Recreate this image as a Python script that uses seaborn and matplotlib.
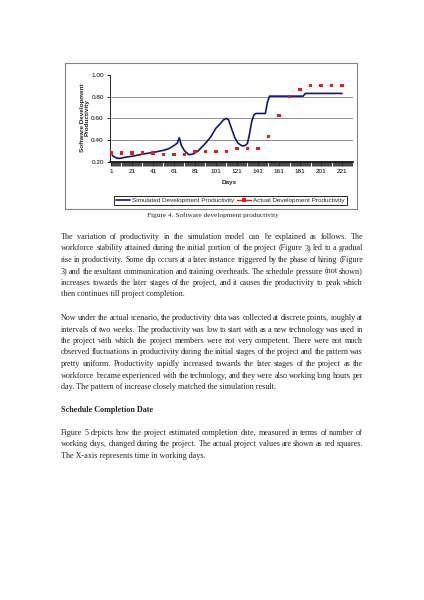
import matplotlib
matplotlib.use("Agg")
import matplotlib.pyplot as plt
import seaborn as sns
from matplotlib.patches import Rectangle
from matplotlib.lines import Line2D

# simulated productivity curve
sim_days = [1, 3, 6, 9, 14, 21, 31, 41, 51, 56, 61, 64, 66, 68, 71, 75, 79, 84, 91, 96,
            101, 105, 108, 111, 113, 116, 119, 122, 126, 129, 131, 133, 135, 137, 139,
            148, 150, 152, 184, 186, 221]
sim_prod = [0.28, 0.25, 0.235, 0.23, 0.24, 0.25, 0.27, 0.285, 0.305, 0.32, 0.35, 0.37,
            0.42, 0.35, 0.30, 0.265, 0.27, 0.30, 0.37, 0.43, 0.51, 0.55, 0.585, 0.60,
            0.585, 0.50, 0.42, 0.37, 0.345, 0.35, 0.37, 0.46, 0.57, 0.63, 0.645,
            0.645, 0.75, 0.805, 0.805, 0.83, 0.83]

# actual productivity (red squares)
act_days = [1, 11, 21, 31, 41, 51, 61, 71, 81, 91, 101, 111, 121, 131, 141, 151, 161,
            171, 181, 191, 201, 211, 221]
act_prod = [0.28, 0.28, 0.28, 0.28, 0.28, 0.27, 0.27, 0.27, 0.29, 0.29, 0.29, 0.29,
            0.32, 0.32, 0.32, 0.43, 0.63, 0.80, 0.87, 0.90, 0.90, 0.90, 0.90]

x_ticks = [1, 21, 41, 61, 81, 101, 121, 141, 161, 181, 201, 221]
y_ticks = [0.20, 0.40, 0.60, 0.80, 1.00]
legend_labels = ["Simulated Development Productivity", "Actual Development Productivity"]

caption = "Figure 4. Software development productivity"
para1 = [
    "The variation of productivity in the simulation model can be explained as follows. The",
    "workforce stability attained during the initial portion of the project (Figure 3) led to a gradual",
    "rise in productivity. Some dip occurs at a later instance triggered by the phase of hiring (Figure",
    "3) and the resultant communication and training overheads. The schedule pressure (not shown)",
    "increases towards the later stages of the project, and it causes the productivity to peak which",
    "then continues till project completion.",
]
para2 = [
    "Now under the actual scenario, the productivity data was collected at discrete points, roughly at",
    "intervals of two weeks.  The productivity was low to start with as a new technology was used in",
    "the project with which the project members were not very competent. There were not much",
    "observed fluctuations in productivity during the initial stages of the project and the pattern was",
    "pretty uniform. Productivity rapidly increased towards the later stages of the project as the",
    "workforce became experienced with the technology, and they were also working long hours per",
    "day. The pattern of increase closely matched the simulation result.",
]
heading = "Schedule Completion Date"
para3 = [
    "Figure 5 depicts how the project estimated completion date, measured in terms of number of",
    "working days, changed during the project. The actual project values are shown as red squares.",
    "The X-axis represents time in working days.",
]

W, H = 424, 600
sns.set_theme(style="white")
plt.rcParams["font.family"] = ["Liberation Sans", "DejaVu Sans"]

fig = plt.figure(figsize=(W / 100, H / 100), dpi=100)
fig.patch.set_facecolor("white")

# chart frame
fig.add_artist(Rectangle((65 / W, 1 - 209 / H), 292 / W, 146 / H, transform=fig.transFigure,
                         fill=False, edgecolor="#808080", lw=0.8))

ax = fig.add_axes([110 / W, 1 - 161.7 / H, 243 / W, 86.7 / H])
line_col = "#14147a"
red = "#e01c1c"
sns.lineplot(x=sim_days, y=sim_prod, ax=ax, color=line_col, lw=1.2)
sns.scatterplot(x=act_days, y=act_prod, ax=ax, marker="s", s=5, color=red,
                edgecolor="none", zorder=3)

ax.set_xlim(0, 231.5)
ax.set_ylim(0.2, 1.0)
ax.set_xticks(x_ticks)
ax.set_xticks(range(1, 232), minor=True)
ax.set_yticks(y_ticks)
ax.set_yticklabels([f"{v:.2f}" for v in y_ticks])
ax.tick_params(axis="both", labelsize=4.6, colors="black", pad=2)
ax.tick_params(axis="x", which="both", direction="out", length=3, width=0.6, bottom=True)
ax.tick_params(axis="y", direction="out", length=2.5, width=0.6, left=True)
for v in y_ticks[1:4]:
    ax.axhline(v, color="#8c8c8c", lw=0.7, zorder=0)
for s in ["top", "right"]:
    ax.spines[s].set_visible(False)
ax.spines["left"].set_color("black")
ax.spines["left"].set_linewidth(0.6)
ax.spines["bottom"].set_color("black")
ax.spines["bottom"].set_linewidth(1.2)
ax.set_xlabel("")
ax.set_ylabel("")

fig.text(229 / W, 1 - 183 / H, "Days", fontsize=4.6, fontweight="bold", ha="center", va="center")
fig.text(85 / W, 1 - 118 / H, "Software Development\nProductivity", fontsize=4.6,
         fontweight="bold", ha="center", va="center", rotation=90, linespacing=1.0)

handles = [Line2D([], [], color=line_col, lw=1.2),
           Line2D([], [], color=red, lw=1.0, marker="s", markersize=2.2, markeredgewidth=0)]
leg = fig.legend(handles, legend_labels, loc="center", bbox_to_anchor=(230.5 / W, 1 - 200.5 / H),
                 ncol=2, fontsize=4.6, frameon=True, fancybox=False, framealpha=1,
                 edgecolor="black", borderpad=0.35, handlelength=2.2, handletextpad=0.3,
                 columnspacing=0.5)
leg.get_frame().set_linewidth(0.6)

# page text
serif = ["Liberation Serif", "DejaVu Serif"]
body_size = 5.85
left, right = 61, 363
renderer = fig.canvas.get_renderer()


def put_line(y, text, justify=True, weight="normal"):
    if not justify:
        fig.text(left / W, 1 - y / H, text, family=serif, fontsize=body_size,
                 fontweight=weight, ha="left", va="center")
        return
    words = text.split()
    objs = [fig.text(0, 1 - y / H, w, family=serif, fontsize=body_size, fontweight=weight,
                     ha="left", va="center") for w in words]
    widths = [o.get_window_extent(renderer).width for o in objs]
    gap = (right - left - sum(widths)) / (len(words) - 1)
    x = left
    for o, w in zip(objs, widths):
        o.set_x(x / W)
        x += w + gap


def put_para(lines, y0, step=11.5):
    for i, t in enumerate(lines):
        put_line(y0 + i * step, t, justify=(i < len(lines) - 1))


fig.text(213 / W, 1 - 215 / H, caption, family=serif, fontsize=5.2, ha="center", va="center")
put_para(para1, 237)
put_para(para2, 318)
put_line(410, heading, justify=False, weight="bold")
put_para(para3, 433)

fig.savefig("out.png", dpi=100)
